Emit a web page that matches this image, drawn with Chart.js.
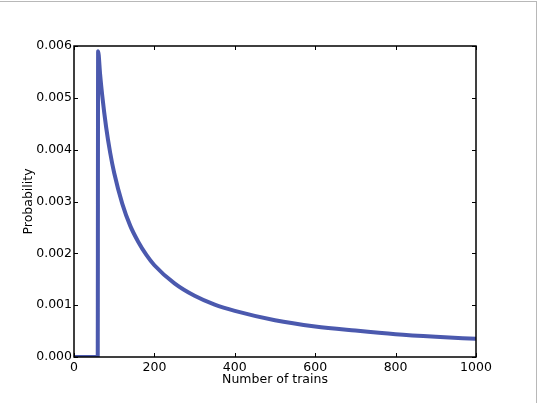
<!DOCTYPE html>
<html>
<head>
<meta charset="utf-8">
<script src="https://cdn.jsdelivr.net/npm/chart.js@4"></script>
<style>
  html, body { margin: 0; padding: 0; background: #fff; }
  #wrap { position: relative; width: 540px; height: 403px; }
  #frame { position: absolute; left: 0; top: 1px; width: 537px; height: 402px;
           border-top: 1px solid #b8b8b8; border-right: 1px solid #b8b8b8; box-sizing: border-box; }
  canvas { position: absolute; left: 0; top: 0; }
</style>
</head>
<body>
<div id="wrap">
  <canvas id="trainChart" width="540" height="403"></canvas>
  <div id="frame"></div>
</div>
<script>
// values
const trains = [0, 59, 60, 65, 70, 80, 90, 100, 120, 140, 160, 180, 200, 250, 300, 350, 400, 500, 600, 700, 800, 900, 1000];
const probs = [0, 0, 0.0059, 0.00545, 0.00506, 0.00443, 0.00394, 0.00355, 0.00296, 0.00253, 0.00222, 0.00197, 0.00177,
               0.00142, 0.00118, 0.00101, 0.00089, 0.00071, 0.00059, 0.00051, 0.00044, 0.00039, 0.00035];
const xTicks = [0, 200, 400, 600, 800, 1000];
const yTicks = [0, 0.001, 0.002, 0.003, 0.004, 0.005, 0.006];

const fontFamily = '"DejaVu Sans", sans-serif';

// draw the box round the plot and the small inward ticks, matplotlib style
const frameTicks = {
    id: 'frameTicks',
    afterDatasetsDraw(chart) {
        const ctx = chart.ctx;
        const a = chart.chartArea;
        const x = chart.scales.x, y = chart.scales.y;
        ctx.save();
        ctx.strokeStyle = '#000';
        ctx.lineWidth = 1;
        xTicks.forEach(v => {
            const px = Math.round(x.getPixelForValue(v)) + 0.5;
            ctx.beginPath();
            ctx.moveTo(px, a.bottom); ctx.lineTo(px, a.bottom - 4);
            ctx.moveTo(px, a.top); ctx.lineTo(px, a.top + 4);
            ctx.stroke();
        });
        yTicks.forEach(v => {
            const py = Math.round(y.getPixelForValue(v)) + 0.5;
            ctx.beginPath();
            ctx.moveTo(a.left, py); ctx.lineTo(a.left + 4, py);
            ctx.moveTo(a.right, py); ctx.lineTo(a.right - 4, py);
            ctx.stroke();
        });
        ctx.lineWidth = 1.5;
        ctx.strokeRect(a.left, a.top, a.right - a.left, a.bottom - a.top);
        ctx.restore();
    }
};

new Chart(document.getElementById('trainChart'), {
    type: 'line',
    data: {
        datasets: [{
            data: trains.map((t, i) => ({ x: t, y: probs[i] })),
            borderColor: '#4b59ae',
            borderWidth: 4,
            pointRadius: 0,
            cubicInterpolationMode: 'monotone',
            fill: false
        }]
    },
    options: {
        responsive: false,
        animation: false,
        layout: { padding: { top: 46, right: 64, left: 17, bottom: 12 } },
        plugins: { legend: { display: false }, tooltip: { enabled: false } },
        scales: {
            x: {
                type: 'linear',
                min: 0, max: 1000,
                afterBuildTicks: s => { s.ticks = xTicks.map(v => ({ value: v })); },
                afterFit: s => { s.height = 34; },
                grid: { display: false, drawTicks: false },
                border: { display: false },
                ticks: { color: '#000', padding: 3, font: { family: fontFamily, size: 12.5 }, maxRotation: 0,
                         callback: v => String(v) },
                title: { display: true, text: 'Number of trains', color: '#000', padding: { top: 0 },
                         font: { family: fontFamily, size: 12.5 } }
            },
            y: {
                min: 0, max: 0.006,
                afterBuildTicks: s => { s.ticks = yTicks.map(v => ({ value: v })); },
                afterFit: s => { s.width = 57; },
                grid: { display: false, drawTicks: false },
                border: { display: false },
                ticks: { color: '#000', padding: 2, font: { family: fontFamily, size: 12.5 },
                         callback: v => v.toFixed(3) },
                title: { display: true, text: 'Probability', color: '#000', padding: { bottom: 2 },
                         font: { family: fontFamily, size: 12.5 } }
            }
        }
    },
    plugins: [frameTicks]
});
</script>
</body>
</html>
